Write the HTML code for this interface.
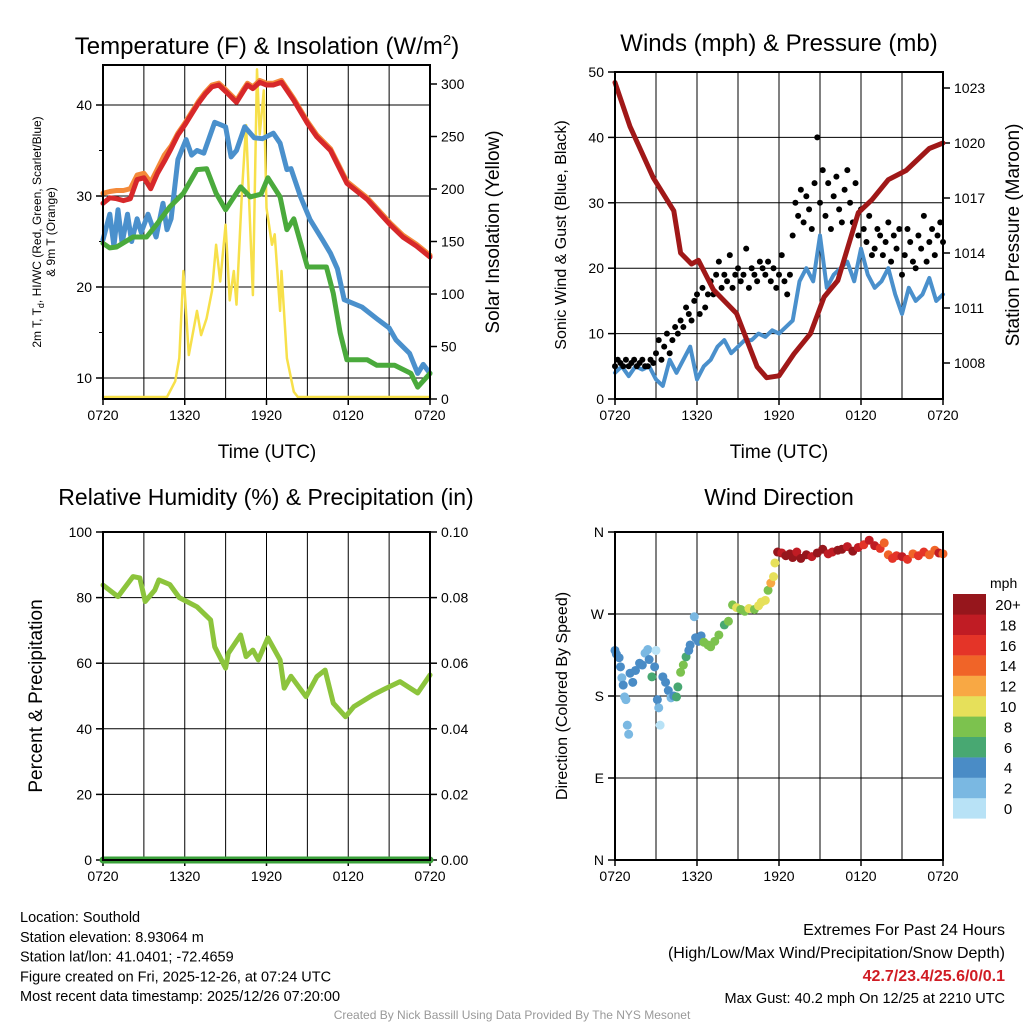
<!DOCTYPE html>
<html><head><meta charset="utf-8"><style>
body{margin:0;background:#fff;}
svg{display:block;font-family:"Liberation Sans",sans-serif;}
</style></head><body>
<svg id="s" width="1024" height="1024" viewBox="0 0 1024 1024" xmlns="http://www.w3.org/2000/svg"></svg>
<script>
// ---- data ----
const hours = [0,0.5,1,1.5,2,2.5,3,3.5,4,4.5,5,5.5,6,6.5,7,7.5,8,8.5,9,9.5,10,10.5,11,11.5,12,12.5,13,13.5,14,14.5,15,15.5,16,16.5,17,17.5,18,18.5,19,19.5,20,20.5,21,21.5,22,22.5,23,23.5,24];
const redT = [0,0.5,1,1.5,2,2.5,3,3.5,4,4.5,5,5.5,6,6.5,7,7.5,8,8.5,9,9.8,10.3,10.6,11,11.5,12,12.5,13.1,14,15,15.7,16.7,17.9,19.4,21.1,22,23,24];
const tempRed = [29.2,29.8,29.7,29.5,29.7,31.8,32,30.8,32.5,33.8,35.2,36.7,37.8,39,40.2,41.2,42,42.2,41.5,40.3,41.5,42.2,41.8,42.5,42.2,42.2,42.5,40.5,38,36.5,35,31.4,29.6,26.8,25.5,24.5,23.3];
const temp9m = [30.3,30.5,30.6,30.6,30.8,32.3,32.5,31.5,33,34.5,35.5,36.9,38,39.2,40.4,41.4,42.2,42.4,41.7,40.5,41.7,42.4,42,42.7,42.4,42.4,42.7,40.7,38.2,36.7,35.2,31.6,29.8,27,25.7,24.7,23.5];
const blueT = [0,0.5,0.8,1.1,1.4,1.8,2.1,2.5,2.8,3.3,3.9,4.4,4.7,5.0,5.5,6.1,6.5,6.9,7.4,8.2,9.0,9.4,9.8,10.4,11.1,11.7,12.5,13.0,13.5,13.8,14.5,15.2,16.1,16.7,17.2,17.7,19.0,20.2,21.0,21.5,22.5,23.1,23.5,24];
const dewBlue = [25.2,28,24.5,28.5,24.8,28,25,27.5,26,28,25.5,29.2,26.3,27.5,34,36.2,34.5,35,34.7,38.1,37.6,34.3,35,37.6,36.4,36.3,36.9,35.8,32.9,33,29.9,27.4,25.2,23.7,22,18.6,17.8,16.4,15.5,14.2,12.7,10.5,11.5,10.5];
const greenT = [0,0.5,1.0,2.2,3.2,4.0,4.9,5.9,6.9,7.6,8.3,9.0,10.1,10.8,11.6,12.1,13.0,13.5,14.0,15.0,16.4,16.9,17.4,17.9,19.4,20.1,21.4,22.6,23.1,23.7,24];
const hiwcGreen = [24.8,24.3,24.4,25.5,25.5,27,28.8,30.3,32.9,33,30.3,28.5,31,29.9,30.2,32,29.9,26.3,27.5,22.2,22.2,19.3,15,12,12,11.4,11.4,10.5,9,10,10.5];
const solarT = [0,4.7,5.3,5.6,5.9,6.3,6.9,7.2,7.6,8.0,8.3,8.6,9.0,9.3,9.6,9.8,10.2,10.5,11.0,11.3,11.5,11.8,12.0,12.4,12.6,13.0,13.1,13.5,14.0,14.3,24];
const solar = [0,0,15,37,120,40,82,59,75,101,145,110,164,92,120,88,196,259,97,312,250,292,180,145,155,82,120,37,5,0,0];
const sonic = [4,5,3.5,5,4.5,5,3,2,6,4,6,8,3,5,6,8,9,7,8,9,9,10,9.5,10.5,10,11,12,18,20,18,25,17,19,20,21,18,23,19,17,18,20,16,13,17,15,16,18.5,15,16];
const gust = [5,6,5.5,5,6,5,5.5,6,5,5.5,6,5,5,6,5.5, 7,9,6,8,10,7,9,11,10,12, 11,14,13,12,15,16,13,17,14,16, 18,16,19,21,17,19,18,22,17,19, 20,18,19,23,17,20,19,18,21,20, 19,21,18,20,17,19,22,18,16,19, 25,30,28,32,27,31,29,26,33,40, 30,35,28,33,26,31,34,29,27,32, 35,30,27,33,25,29,26,24,28,22, 23,26,25,22,24,27,21,25,23,26, 19,22,26,24,21,20,25,23,28,21, 24,26,22,25,27,24];
const presT = [0,1.1,2.8,4.3,4.8,5.6,6.1,7.2,8.9,10.4,11.1,12.0,13.1,14.3,15.3,16.3,17.8,18.8,20,21.3,23,24];
const pressure = [1023.3,1020.9,1018.1,1016.3,1014,1013.4,1013.6,1012,1010.7,1007.8,1007.2,1007.3,1008.5,1009.6,1011.6,1012.5,1016.2,1016.9,1018,1018.5,1019.7,1020];
const rhT = [0,1.1,1.5,2.2,2.7,3.1,3.8,4.1,4.9,5.6,6.9,7.9,8.2,9.0,9.2,10.1,10.5,11.0,11.4,12.1,13.0,13.3,13.8,14.9,15.7,16.3,16.9,17.8,18.4,19.8,20.8,21.8,23.1,24];
const rh = [83.8,80.3,82.5,86.4,86,78.8,82.3,85.4,84,80,77.2,73.2,65,58.5,63,68.6,62,64,61,67.7,61,52.4,56,49.8,55.9,57.9,47.8,43.7,46.7,50.3,52.4,54.4,50.9,56.4];
const precipT = [0,24];
const precip = [0,0];
const dirT = [0.0,0.1,0.3,0.4,0.5,0.6,0.7,0.8,0.9,1.0,1.1,1.3,1.5,1.8,2.0,2.2,2.4,2.5,2.7,2.9,3.0,3.1,3.2,3.3,3.5,3.7,3.9,4.1,4.3,4.5,4.6,4.8,5.0,5.2,5.4,5.5,5.8,5.9,6.1,6.3,6.5,6.8,7.0,7.3,7.6,8.0,8.3,8.6,8.9,9.2,9.5,9.8,10.2,10.5,10.7,11.0,11.2,11.4,11.6,11.7,11.9,12.2,12.5,12.8,13.0,13.3,13.6,14.0,14.4,14.8,15.2,15.6,15.9,16.3,16.6,17.0,17.4,17.8,18.2,18.6,19.0,19.4,19.7,20.0,20.3,20.6,21.0,21.4,21.8,22.2,22.6,23.0,23.4,23.7,24.0];
const dirs = [230,226,222,212,200,192,179,176,148,138,205,195,208,216,214,227,231,220,201,212,230,176,167,148,201,195,186,178,180,179,190,206,214,223,230,236,267,244,240,246,239,236,234,240,247,258,262,280,277,275,273,276,275,279,283,285,296,304,311,326,338,337,334,336,332,338,331,335,333,337,341,336,338,340,341,344,339,343,346,351,345,342,348,335,331,334,333,330,336,334,338,335,340,337,336];
const dirSpd = [4,4,4,5,3,4,3,2,3,3,4,4,5,4,5,3,2,4,6,4,1,4,3,1,4,5,4,3,4,7,7,8,8,7,4,5,3,4,5,4,8,9,8,8,9,7,8,8,10,8,9,10,8,10,11,10,8,13,11,11,20,19,21,20,20,19,20,21,19,20,20,19,18,20,21,18,20,19,17,19,18,16,15,15,17,16,18,16,15,17,16,14,15,18,14];
const timeTicks = ['0720','1320','1920','0120','0720'];
const speedLabels = ['0','2','4','6','8','10','12','14','16','18','20+'];
const speedColors = ['#b8e2f6','#7ab8e2','#4a8cc6','#48a872','#7cc24e','#e6e05a','#f8a844','#f06428','#e43428','#c01c24','#96161c'];

// ---- helpers ----
const S = document.getElementById('s');
const NS = 'http://www.w3.org/2000/svg';
function mk(tag, attrs, parent){const e=document.createElementNS(NS,tag);for(const k in attrs)e.setAttribute(k,attrs[k]);(parent||S).appendChild(e);return e;}
function txt(x,y,s,size,anchor,extra){const e=mk('text',Object.assign({x:x,y:y,'font-size':size,'text-anchor':anchor||'middle',fill:'#000'},extra||{}));e.textContent=s;return e;}
function line(ts,vs,fx,fy,color,w,name){const d=ts.map((t,i)=>(i?'L':'M')+fx(t).toFixed(1)+','+fy(vs[i]).toFixed(1)).join('');const p=mk('path',{d:d,fill:'none',stroke:color,'stroke-width':w,'stroke-linejoin':'round','stroke-linecap':'round'});


return p;}

function frame(x0,y0,x1,y1,fx,name){
  const g=mk('g',{});
  
  
  for(let h=3;h<24;h+=3){mk('line',{x1:fx(h),x2:fx(h),y1:y0,y2:y1,stroke:'#000','stroke-width':1},g);}
  timeTicks.forEach((s,i)=>{const x=fx(i*6);mk('line',{x1:x,x2:x,y1:y1,y2:y1+6,stroke:'#000','stroke-width':1.5},g);
    const t=txt(x,y1+21,s,14,'middle');
    
    });
  return g;
}
function hgrid(x0,x1,y){mk('line',{x1:x0,x2:x1,y1:y,y2:y,stroke:'#000','stroke-width':1});}
function box(x0,y0,x1,y1){mk('rect',{x:x0,y:y0,width:x1-x0,height:y1-y0,fill:'none',stroke:'#000','stroke-width':2});}
function leftTick(x,y,label,size){mk('line',{x1:x-7,x2:x,y1:y,y2:y,stroke:'#000','stroke-width':1.5});const t=txt(x-11,y+5,label,size||14,'end');

}
function rightTick(x,y,label){mk('line',{x1:x,x2:x+7,y1:y,y2:y,stroke:'#000','stroke-width':1.5});const t=txt(x+11,y+5,label,14,'start');

}
function rot(x,y,s,size,ang){return txt(0,0,s,size,'middle',{transform:'translate('+x+','+y+') rotate('+ang+')'});}

// ---- Panel 1: temperature ----
const p1x=h=>103+h*327/24, p1y=v=>378-(v-10)*9.1, p1r=v=>397-v*1.05;
frame(103,65,430,399,p1x,'temperature-grid');
[10,20,30,40].forEach(v=>{hgrid(103,430,p1y(v));leftTick(103,p1y(v),String(v));});
[15,25,35].forEach(v=>mk('line',{x1:99,x2:103,y1:p1y(v),y2:p1y(v),stroke:'#000'}));
[0,50,100,150,200,250,300].forEach(v=>rightTick(430,p1r(v)+2,String(v)));
line(solarT,solar,p1x,p1r,'#f7e04a',2.5,'solar-insolation-line');
line(redT,temp9m,p1x,p1y,'#f48a3a',5,'9m-temp-line');
line(redT,tempRed,p1x,p1y,'#d7282a',5,'2m-temp-line');
line(blueT,dewBlue,p1x,p1y,'#4a90cc',5,'dewpoint-line');
line(greenT,hiwcGreen,p1x,p1y,'#4aaa3c',5,'hiwc-line');
box(103,65,430,399);
let t=txt(267,54,'Temperature (F) & Insolation (W/m',24,'middle');


const sup=mk('tspan',{dy:-9,'font-size':15},t);sup.textContent='2';
const cl=mk('tspan',{dy:9},t);cl.textContent=')';
t=txt(267,458,'Time (UTC)',19,'middle');


t=rot(41,232,'2m T, T',12,-90);
const sb=mk('tspan',{'font-size':9,dy:3},t);sb.textContent='d';
const rest=mk('tspan',{dy:-3},t);rest.textContent=', HI/WC (Red, Green, Scarlet/Blue)';


t=rot(55,232,'& 9m T (Orange)',12,-90);


t=rot(499,232,'Solar Insolation (Yellow)',19,-90);



// ---- Panel 2: winds ----
const p2x=h=>615+h*328/24, p2y=v=>399-v*6.54, p2r=p=>363-(p-1008)*55/3;
frame(615,72,943,399,p2x,'winds-grid');
[10,20,30,40].forEach(v=>hgrid(615,943,p2y(v)));
[0,10,20,30,40,50].forEach(v=>leftTick(615,p2y(v),String(v)));
[1008,1011,1014,1017,1020,1023].forEach(v=>rightTick(943,p2r(v),String(v)));
line(hours,sonic,p2x,p2y,'#4a90cc',4,'sonic-wind-line');
gust.forEach((g,i)=>{const c=mk('circle',{cx:p2x(i*0.2),cy:p2y(g),r:3,fill:'#000'});

});
line(presT,pressure,p2x,p2r,'#a01818',5,'pressure-line');
box(615,72,943,399);
t=txt(779,51,'Winds (mph) & Pressure (mb)',24,'middle');


t=txt(779,458,'Time (UTC)',19,'middle');


t=rot(566,235,'Sonic Wind & Gust (Blue, Black)',16,-90);


t=rot(1019,235,'Station Pressure (Maroon)',19,-90);



// ---- Panel 3: RH ----
const p3y=v=>860-v*3.28;
frame(103,532,430,860,p1x,'humidity-grid');
[20,40,60,80].forEach(v=>hgrid(103,430,p3y(v)));
[0,20,40,60,80,100].forEach(v=>{leftTick(103,p3y(v),String(v));rightTick(430,p3y(v),(v/1000).toFixed(2));});
line(rhT,rh,p1x,p3y,'#8cc43c',5,'humidity-line');
line(precipT,precip,p1x,p3y,'#3aa03a',7,'precipitation-line');
box(103,532,430,860);
t=txt(266,505,'Relative Humidity (%) & Precipitation (in)',23,'middle');


t=rot(42,696,'Percent & Precipitation',19,-90);



// ---- Panel 4: wind direction ----
const p4y=d=>860-d*328/360;
frame(615,532,943,860,p2x,'direction-grid');
[90,180,270].forEach(v=>hgrid(615,943,p4y(v)));
[['N',360],['W',270],['S',180],['E',90],['N',0]].forEach(a=>leftTick(615,p4y(a[1]),a[0]));
dirs.forEach((d,i)=>{const k=Math.min(10,Math.floor(dirSpd[i]/2));
  const c=mk('circle',{cx:p2x(dirT[i]),cy:p4y(d),r:4.5,fill:speedColors[k]});
  
  });
box(615,532,943,860);
t=txt(779,505,'Wind Direction',23,'middle');


t=rot(567,696,'Direction (Colored By Speed)',16,-90);


// colorbar
t=txt(990,588,'mph',14,'start');


speedLabels.forEach((s,i)=>{const y=798-i*20.4;
  const r=mk('rect',{x:953,y:y,width:33,height:20.6,fill:speedColors[i]});
  
  
  const l=txt(1008,y+16,s,15,'middle');
  
  });

// ---- footer text ----
['Location: Southold','Station elevation: 8.93064 m','Station lat/lon: 41.0401; -72.4659','Figure created on Fri, 2025-12-26, at 07:24 UTC','Most recent data timestamp: 2025/12/26 07:20:00'].forEach((s,i)=>{
  const e=txt(20,922+i*19.8,s,14.5,'start');
  
  });
t=txt(1005,935,'Extremes For Past 24 Hours',16,'end');


t=txt(1005,958,'(High/Low/Max Wind/Precipitation/Snow Depth)',16,'end');


t=txt(1005,981,'42.7/23.4/25.6/0/0.1',16,'end',{fill:'#d01c24','font-weight':'bold'});


t=txt(1005,1003,'Max Gust: 40.2 mph On 12/25 at 2210 UTC',14.5,'end');


t=txt(512,1019,'Created By Nick Bassill Using Data Provided By The NYS Mesonet',12,'middle',{fill:'#999'});


</script>
</body></html>
